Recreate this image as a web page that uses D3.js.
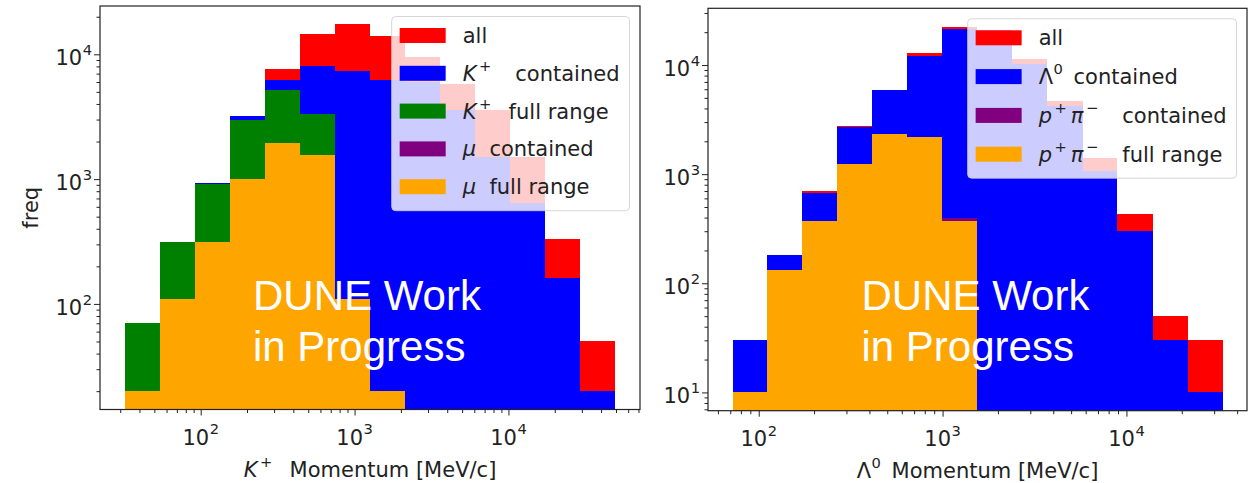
<!DOCTYPE html>
<html>
<head>
<meta charset="utf-8">
<script src="https://cdn.jsdelivr.net/npm/d3@7"></script>
<style>
  html, body { margin: 0; padding: 0; background: #fff; }
  svg { display: block; font-family: "DejaVu Sans", sans-serif; }
  svg text { white-space: pre; }
</style>
</head>
<body>
<svg id="chart" width="1251" height="483"></svg>
<script>
// ---- K+ panel (bin edges in MeV/c, counts per bin) ----
const kaonEdges = [32, 54, 92, 155, 261, 442, 746, 1260, 2130, 3600, 6080, 10300, 17400, 29300, 49600];
const kaonAll = [70, 315, 930, 3210, 7620, 14640, 17380, 13930, 9530, 5830, 3560, 1510, 330, 50];
const kaonContained = [null, null, 930, 3210, 6270, 8070, 7310, 6270, 6010, 3560, 1510, 640, 160, 20];
const kaonFullRange = [70, 315, 910, 2960, 5210, 3350, null, null, null, null, null, null, null, null];
const muContained = [20, 109, 315, 1000, 1950, 1555, 109, 20, null, null, null, null, null, null];
const muFullRange = [20, 109, 315, 1000, 1950, 1555, 109, 20, null, null, null, null, null, null];

// ---- Lambda0 panel ----
const lambdaEdges = [72, 111, 173, 268, 415, 644, 998, 1547, 2400, 3720, 5770, 8940, 13870, 21500, 33300];
const lambdaAll = [30, 181, 702, 2750, 5960, 12980, 22500, 21000, 11280, 4680, 1420, 430, 50, 30];
const lambdaContained = [30, 181, 678, 2705, 5900, 12090, 21230, 21000, 10150, 4220, 1070, 302, 30, 10];
const ppiContained = [10, 132, 372, 1233, 2355, 2210, 400, null, null, null, null, null, null, null];
const ppiFullRange = [10, 132, 372, 1233, 2355, 2210, 370, null, null, null, null, null, null, null];

// labels (segments: t text, i italic, s superscript)
const kaonLegend = [
  [{t: 'all'}],
  [{t: 'K', i: 1}, {t: '+', s: 1}, {t: '   contained'}],
  [{t: 'K', i: 1}, {t: '+', s: 1}, {t: '  full range'}],
  [{t: 'μ', i: 1}, {t: '  contained'}],
  [{t: 'μ', i: 1}, {t: '  full range'}]
];
const lambdaLegend = [
  [{t: 'all'}],
  [{t: 'Λ'}, {t: '0', s: 1}, {t: ' contained'}],
  [{t: 'p', i: 1}, {t: '+', s: 1}, {t: 'π', i: 1}, {t: '−', s: 1}, {t: '   contained'}],
  [{t: 'p', i: 1}, {t: '+', s: 1}, {t: 'π', i: 1}, {t: '−', s: 1}, {t: '   full range'}]
];
const kaonXLabel = [{t: 'K', i: 1}, {t: '+', s: 1}, {t: '  Momentum [MeV/c]'}];
const lambdaXLabel = [{t: 'Λ'}, {t: '0', s: 1}, {t: ' Momentum [MeV/c]'}];
const watermark = ['DUNE Work', 'in Progress'];

const colors = {all: '#ff0000', contained: '#0000ff', full: '#008000', subContained: '#800080', subFull: '#ffa500'};

const panels = [
  {
    edges: kaonEdges,
    series: [
      {values: kaonAll, color: colors.all},
      {values: kaonContained, color: colors.contained},
      {values: kaonFullRange, color: colors.full},
      {values: muContained, color: colors.subContained},
      {values: muFullRange, color: colors.subFull}
    ],
    legend: kaonLegend,
    xlabel: kaonXLabel,
    ylabel: 'freq',
    box: {left: 100, right: 640, top: 6, bottom: 409.5},
    rowStep: 37.8,
    markX: 253
  },
  {
    edges: lambdaEdges,
    series: [
      {values: lambdaAll, color: colors.all},
      {values: lambdaContained, color: colors.contained},
      {values: ppiContained, color: colors.subContained},
      {values: ppiFullRange, color: colors.subFull}
    ],
    legend: lambdaLegend,
    xlabel: lambdaXLabel,
    ylabel: null,
    box: {left: 708, right: 1247, top: 8.3, bottom: 410.7},
    rowStep: 38.8,
    markX: 861.5
  }
];

const FS = 21;
const ink = '#222';
const svg = d3.select('#chart');

// mathtext-like runs: italic letters, raised superscripts with a bit of air around them
function rich(text, segs, size) {
  const raise = size * 0.48;
  let shift = 0, prevItalic = false, prevSup = false;
  segs.forEach(s => {
    const ts = text.append('tspan').text(s.t)
      .attr('font-size', s.s ? size * 0.7 : size);
    if (s.i) ts.attr('font-style', 'italic');
    const target = s.s ? -raise : 0;
    if (target !== shift) { ts.attr('dy', target - shift); shift = target; }
    let dx = 0;
    if (s.s) dx += prevItalic ? 2.5 : 0.5;
    if (prevSup) dx += 4;
    if (dx) ts.attr('dx', dx);
    prevItalic = !!s.i;
    prevSup = !!s.s;
  });
}

function logPad(extent) {
  const a = Math.log10(extent[0]), b = Math.log10(extent[1]);
  const p = (b - a) * 0.05;
  return [Math.pow(10, a - p), Math.pow(10, b + p)];
}

panels.forEach((P, pi) => {
  const b = P.box;
  const allVals = P.series.flatMap(s => s.values).filter(v => v > 0);
  const x = d3.scaleLog().domain(logPad(d3.extent(P.edges))).range([b.left, b.right]);
  const y = d3.scaleLog().domain(logPad(d3.extent(allVals))).range([b.bottom, b.top]);

  const clipId = 'clip' + pi;
  svg.append('clipPath').attr('id', clipId)
    .append('rect')
    .attr('x', b.left).attr('y', b.top)
    .attr('width', b.right - b.left).attr('height', b.bottom - b.top);

  const bars = svg.append('g').attr('clip-path', `url(#${clipId})`);
  P.series.forEach(s => {
    const bins = s.values.map((v, i) => ({v, x0: P.edges[i], x1: P.edges[i + 1]}))
      .filter(d => d.v > 0);
    bars.append('g').selectAll('rect')
      .data(bins)
      .join('rect')
      .attr('x', d => x(d.x0))
      .attr('width', d => x(d.x1) - x(d.x0))
      .attr('y', d => y(d.v))
      .attr('height', d => b.bottom - y(d.v))
      .attr('fill', s.color)
      .attr('shape-rendering', 'crispEdges');
  });

  // watermark
  const wm = svg.append('text')
    .attr('font-family', '"Liberation Sans", Arial, sans-serif')
    .attr('font-size', 42)
    .attr('fill', '#fff');
  watermark.forEach((line, i) => {
    wm.append('tspan').attr('x', P.markX).attr('y', 310 + i * 51).text(line);
  });

  // ticks
  const xMajor = x.ticks().filter(v => Math.abs(Math.log10(v) % 1) < 1e-9);
  const xMinor = x.ticks().filter(v => !xMajor.includes(v));
  const yMajor = y.ticks().filter(v => Math.abs(Math.log10(v) % 1) < 1e-9);
  const yMinor = y.ticks().filter(v => !yMajor.includes(v));

  const axes = svg.append('g').attr('color', ink);
  axes.append('g').attr('transform', `translate(0,${b.bottom})`)
    .call(d3.axisBottom(x).tickValues(xMajor).tickSize(6).tickFormat(''));
  axes.append('g').attr('transform', `translate(0,${b.bottom})`)
    .call(d3.axisBottom(x).tickValues(xMinor).tickSize(3.5).tickFormat(''));
  axes.append('g').attr('transform', `translate(${b.left},0)`)
    .call(d3.axisLeft(y).tickValues(yMajor).tickSize(6).tickFormat(''));
  axes.append('g').attr('transform', `translate(${b.left},0)`)
    .call(d3.axisLeft(y).tickValues(yMinor).tickSize(3.5).tickFormat(''));
  axes.selectAll('.domain').remove();

  svg.append('rect')
    .attr('x', b.left).attr('y', b.top)
    .attr('width', b.right - b.left).attr('height', b.bottom - b.top)
    .attr('fill', 'none').attr('stroke', ink).attr('stroke-width', 1.2);

  const powLabel = v => [{t: '10'}, {t: String(Math.round(Math.log10(v))), s: 1}];
  xMajor.forEach(v => {
    const t = svg.append('text').attr('x', x(v)).attr('y', b.bottom + 35)
      .attr('text-anchor', 'middle').attr('fill', ink);
    rich(t, powLabel(v), FS);
  });
  yMajor.forEach(v => {
    const t = svg.append('text').attr('x', b.left - 8).attr('y', y(v) + 11)
      .attr('text-anchor', 'end').attr('fill', ink);
    rich(t, powLabel(v), FS);
  });

  const xl = svg.append('text')
    .attr('x', (b.left + b.right) / 2).attr('y', b.bottom + 67.5)
    .attr('text-anchor', 'middle').attr('fill', ink);
  rich(xl, P.xlabel, FS);

  if (P.ylabel) {
    svg.append('text')
      .attr('transform', `translate(37.5,${(b.top + b.bottom) / 2}) rotate(-90)`)
      .attr('text-anchor', 'middle').attr('fill', ink).attr('font-size', FS)
      .text(P.ylabel);
  }

  // legend
  const lg = svg.append('g');
  const bg = lg.append('rect');
  const patchX = 8, patchW = 46, textX = 71, firstRow = 19;
  const entries = lg.append('g');
  P.legend.forEach((segs, i) => {
    const cy = firstRow + i * P.rowStep;
    entries.append('rect')
      .attr('x', patchX).attr('y', cy - 7.5)
      .attr('width', patchW).attr('height', 15)
      .attr('fill', P.series[i].color);
    const t = entries.append('text').attr('x', textX).attr('y', cy + 7.5).attr('fill', ink);
    rich(t, segs, FS);
  });
  const bb = entries.node().getBBox();
  const boxW = bb.x + bb.width + 10;
  const boxH = firstRow + (P.legend.length - 1) * P.rowStep + 24;
  bg.attr('width', boxW).attr('height', boxH)
    .attr('rx', 4)
    .attr('fill', '#fff').attr('fill-opacity', 0.8)
    .attr('stroke', '#ccc').attr('stroke-opacity', 0.8);
  lg.attr('transform', `translate(${b.right - 10.5 - boxW},${b.top + 10.5})`);
});
</script>
</body>
</html>
